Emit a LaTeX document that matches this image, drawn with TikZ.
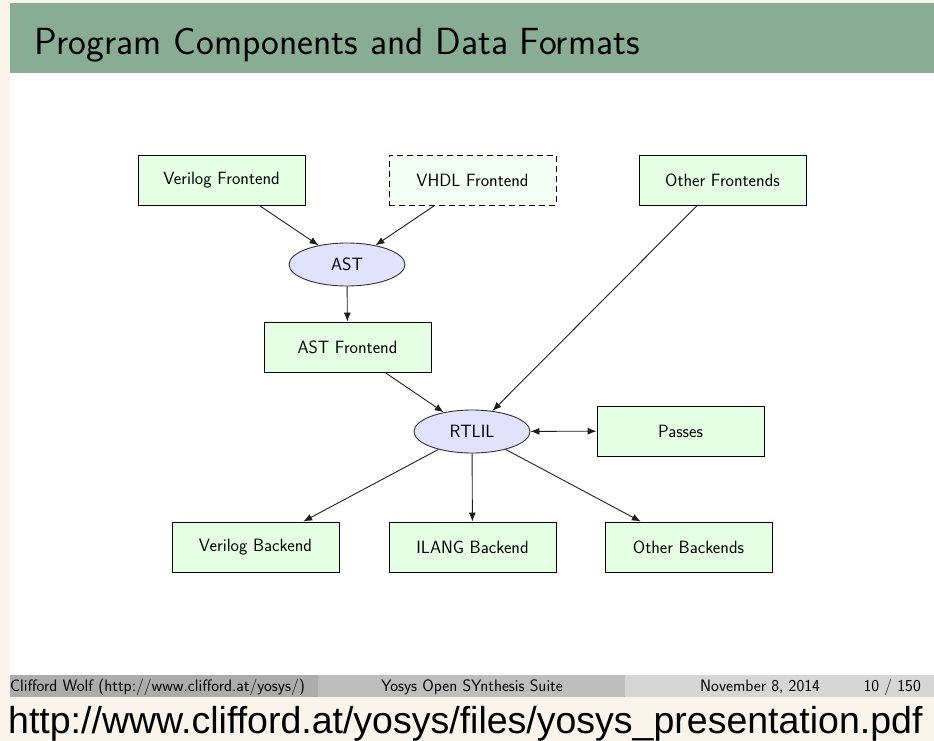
\documentclass[tikz,border=0pt]{standalone}
\usepackage{fontspec}
\newfontfamily\urlfont{Liberation Sans}
\usetikzlibrary{shapes.geometric,arrows.meta}
\definecolor{creambg}{RGB}{249,245,237}
\definecolor{titlegreen}{RGB}{136,173,148}
\definecolor{boxgreen}{RGB}{229,255,229}
\definecolor{boxgreenlight}{RGB}{242,255,242}
\definecolor{ellblue}{RGB}{226,226,255}
\definecolor{footA}{RGB}{172,172,172}
\definecolor{footB}{RGB}{190,190,190}
\definecolor{footC}{RGB}{214,214,214}
\definecolor{linegray}{RGB}{30,30,30}
\begin{document}
\begin{tikzpicture}[x=1pt,y=-1pt,
  every node/.style={font=\sffamily\fontsize{17.8}{20}\selectfont},
  compbox/.style={draw=black,line width=0.9pt,fill=boxgreen,minimum width=167pt,minimum height=50pt,inner sep=0pt},
  optbox/.style={compbox,dash pattern=on 6pt off 4pt,fill=boxgreenlight},
  fmtell/.style={ellipse,draw=black!80,line width=0.9pt,fill=ellblue,minimum width=116pt,minimum height=43pt,inner sep=0pt},
  conn/.style={draw=linegray,line width=0.9pt,-{Latex[length=9pt,width=7pt]}},
  footbar/.style={font=\sffamily\fontsize{16.6}{18}\selectfont,inner sep=0pt,anchor=base west}
]
\useasboundingbox (0,0) rectangle (934,741);
\fill[creambg] (0,0) rectangle (934,741);
\fill[white] (10,3) rectangle (934,675);
\fill[titlegreen] (10,3) rectangle (934,73);
\node[font=\sffamily\fontsize{37.8}{42}\selectfont,anchor=base west,inner sep=0pt] (title) at (34,55) {Program Components and Data Formats};
% footer
\fill[footA] (10,675) rectangle (318,697);
\fill[footB] (318,675) rectangle (625,697);
\fill[footC] (625,675) rectangle (934,697);
\node[footbar] (fauthor) at (10,691) {Clifford Wolf (http://www.clifford.at/yosys/)};
\node[footbar,anchor=base] (ftitle) at (472,691) {Yosys Open SYnthesis Suite};
\node[footbar] (fdate) at (700,691) {November 8, 2014};
\node[footbar,anchor=base east] (fpage) at (921,691) {10 / 150};
\node[font=\urlfont\fontsize{37.5}{42}\selectfont,anchor=base west,inner sep=0pt] (url) at (8,733) {http://www.clifford.at/yosys/files/yosys\_presentation.pdf};
% diagram
\node[compbox] (vfe) at (221.5,180) {Verilog Frontend};
\node[optbox] (vhdl) at (472.5,180) {VHDL Frontend};
\node[compbox] (ofe) at (722.5,180) {Other Frontends};
\node[fmtell] (ast) at (347,264.5) {AST};
\node[compbox] (astfe) at (347.5,347) {AST Frontend};
\node[fmtell] (rtlil) at (472,431.5) {RTLIL};
\node[compbox] (passes) at (680.5,431) {Passes};
\node[compbox] (vbe) at (255.5,547) {Verilog Backend};
\node[compbox] (ibe) at (472.5,547) {ILANG Backend};
\node[compbox] (obe) at (688.5,547) {Other Backends};
\draw[conn] (vfe) -- (ast);
\draw[conn] (vhdl) -- (ast);
\draw[conn] (ast) -- (astfe);
\draw[conn] (astfe) -- (rtlil);
\draw[conn] (ofe) -- (rtlil);
\draw[conn,{Latex[length=9pt,width=7pt]}-{Latex[length=9pt,width=7pt]}] (rtlil) -- (passes);
\draw[conn] (rtlil) -- (vbe);
\draw[conn] (rtlil) -- (ibe);
\draw[conn] (rtlil) -- (obe);
\end{tikzpicture}
\end{document}
